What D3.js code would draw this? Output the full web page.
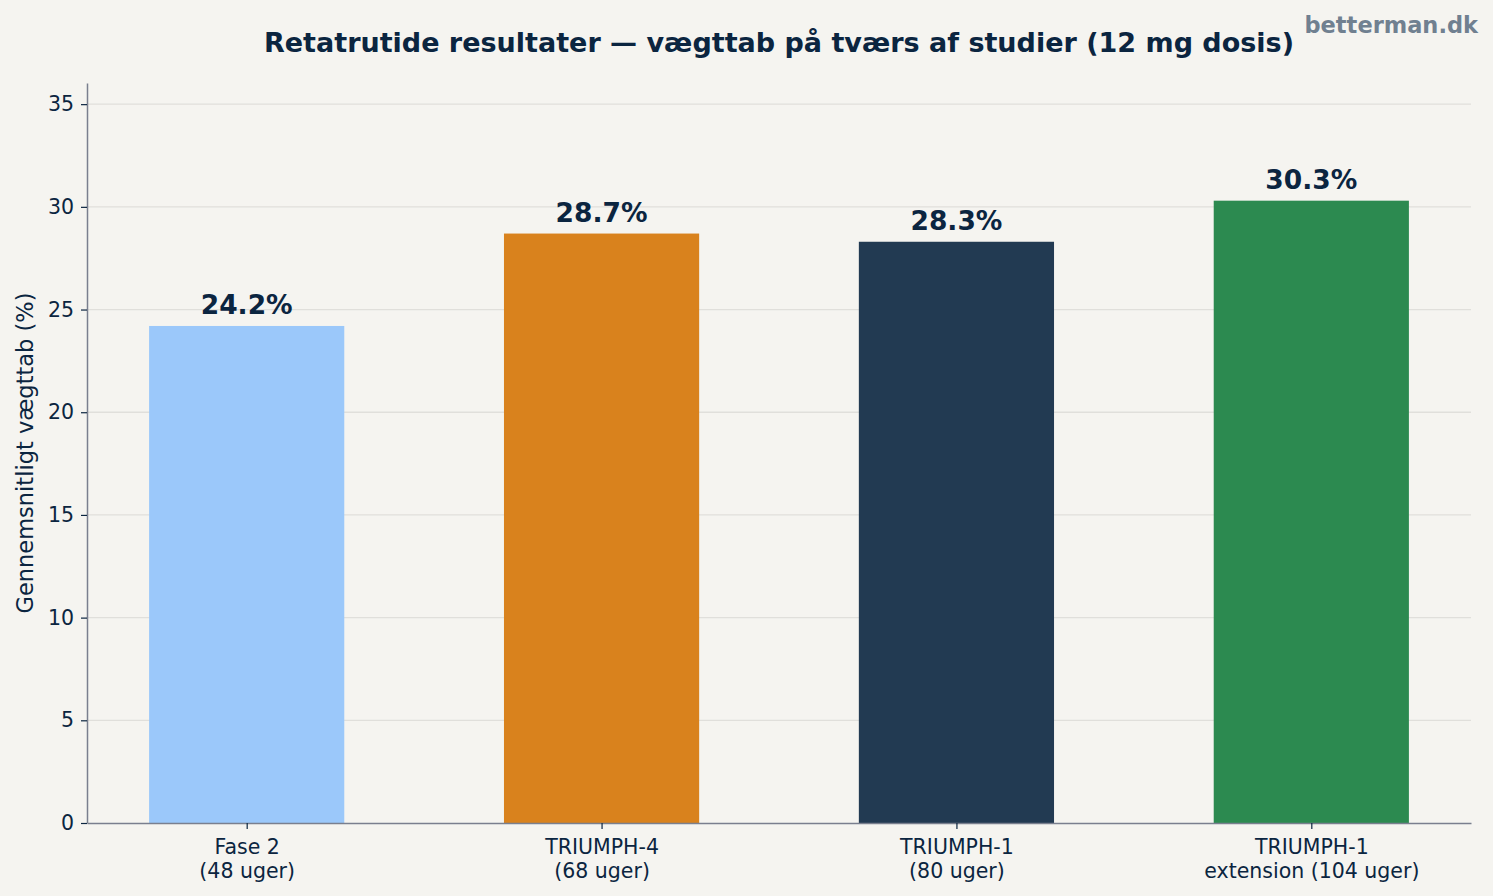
<!DOCTYPE html>
<html>
<head>
<meta charset="utf-8">
<script src="https://cdn.jsdelivr.net/npm/d3@7"></script>
<style>
  html, body { margin: 0; padding: 0; background: #f5f4f0; }
  svg { display: block; font-family: "DejaVu Sans", sans-serif; }
</style>
</head>
<body>
<div id="chart"></div>
<script>
// data
const studies = ['Fase 2\n(48 uger)', 'TRIUMPH-4\n(68 uger)', 'TRIUMPH-1\n(80 uger)', 'TRIUMPH-1\nextension (104 uger)'];
const weightLoss = [24.2, 28.7, 28.3, 30.3];
const barColors = ['#9bc8fa', '#d9821d', '#223a52', '#2c8a50'];
const yTicks = [0, 5, 10, 15, 20, 25, 30, 35];

const width = 1493, height = 896;
const margin = { top: 83, right: 22, bottom: 73, left: 87 };
const ink = '#0b2540';

const svg = d3.select('#chart').append('svg')
  .attr('width', width)
  .attr('height', height);

svg.append('rect').attr('width', width).attr('height', height).attr('fill', '#f5f4f0');

const x = d3.scaleLinear()
  .domain([-0.45, studies.length - 0.55])
  .range([margin.left, width - margin.right]);

const y = d3.scaleLinear()
  .domain([0, 36.03])
  .range([height - margin.bottom, margin.top]);

const barW = x(0.55) - x(0);

// gridlines
svg.append('g')
  .selectAll('line')
  .data(yTicks.filter(d => d > 0))
  .enter().append('line')
  .attr('x1', margin.left).attr('x2', width - margin.right)
  .attr('y1', d => y(d)).attr('y2', d => y(d))
  .attr('stroke', '#e0dfdb')
  .attr('stroke-width', 1.3);

// bars
svg.append('g')
  .selectAll('rect')
  .data(weightLoss)
  .enter().append('rect')
  .attr('x', (d, i) => x(i) - barW / 2)
  .attr('width', barW)
  .attr('y', d => y(d))
  .attr('height', d => y(0) - y(d))
  .attr('fill', (d, i) => barColors[i]);

// value labels
svg.append('g')
  .selectAll('text')
  .data(weightLoss)
  .enter().append('text')
  .attr('x', (d, i) => x(i))
  .attr('y', d => y(d) - 12)
  .attr('text-anchor', 'middle')
  .attr('font-size', 26.5)
  .attr('font-weight', 'bold')
  .attr('fill', ink)
  .text(d => d.toFixed(1) + '%');

// y axis
const yAxis = svg.append('g')
  .attr('transform', `translate(${margin.left},0)`)
  .call(d3.axisLeft(y).tickValues(yTicks).tickSize(6).tickSizeOuter(0).tickPadding(7));
yAxis.select('.domain').attr('stroke', '#7a7f8e').attr('stroke-width', 1.5);
yAxis.selectAll('.tick line').attr('stroke', ink).attr('stroke-width', 1.2);
yAxis.selectAll('.tick text').attr('fill', ink).attr('font-size', 20.5)
  .attr('font-family', '"DejaVu Sans", sans-serif');

// x axis
const xAxis = svg.append('g')
  .attr('transform', `translate(0,${height - margin.bottom})`)
  .call(d3.axisBottom(x).tickValues(d3.range(studies.length)).tickSize(6).tickSizeOuter(0).tickFormat(''));
xAxis.select('.domain').attr('stroke', '#7a7f8e').attr('stroke-width', 1.5);
xAxis.selectAll('.tick line').attr('stroke', ink).attr('stroke-width', 1.2);

xAxis.selectAll('.tick')
  .append('text')
  .attr('fill', ink)
  .attr('font-size', 20.5)
  .attr('text-anchor', 'middle')
  .attr('font-family', '"DejaVu Sans", sans-serif')
  .selectAll('tspan')
  .data(i => studies[i].split('\n'))
  .enter().append('tspan')
  .attr('x', 0)
  .attr('y', (d, j) => 31 + j * 24)
  .text(d => d);

// y label
svg.append('text')
  .attr('transform', `translate(33,${(margin.top + height - margin.bottom) / 2}) rotate(-90)`)
  .attr('text-anchor', 'middle')
  .attr('font-size', 22.5)
  .attr('fill', ink)
  .text('Gennemsnitligt vægttab (%)');

// title
svg.append('text')
  .attr('x', (margin.left + width - margin.right) / 2)
  .attr('y', 52)
  .attr('text-anchor', 'middle')
  .attr('font-size', 27)
  .attr('font-weight', 'bold')
  .attr('fill', ink)
  .text('Retatrutide resultater — vægttab på tværs af studier (12 mg dosis)');

// watermark
svg.append('text')
  .attr('x', width - 15)
  .attr('y', 33)
  .attr('text-anchor', 'end')
  .attr('font-size', 22.5)
  .attr('font-weight', 'bold')
  .attr('fill', '#708090')
  .text('betterman.dk');
</script>
</body>
</html>
